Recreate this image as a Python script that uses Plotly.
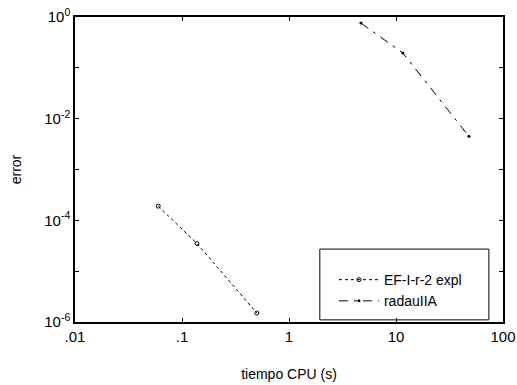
import plotly.graph_objects as go

# CPU time (s) vs. error for the two integrators
ef_time = [0.06, 0.138, 0.50]
ef_error = [1.9e-4, 3.5e-5, 1.5e-6]

radau_time = [4.7, 11.6, 48.0]
radau_error = [0.76, 0.195, 4.5e-3]

x_tickvals = [0.01, 0.1, 1, 10, 100]
x_ticktext = [".01", ".1", "1", "10", "100"]
y_tickvals = [1, 1e-2, 1e-4, 1e-6]
y_ticktext = ["10<sup>0</sup>", "10<sup>-2</sup>", "10<sup>-4</sup>", "10<sup>-6</sup>"]
y_minorvals = [1e-1, 1e-3, 1e-5]

FONT = "Liberation Sans, Arial, sans-serif"

fig = go.Figure()
fig.add_trace(go.Scatter(
    x=ef_time, y=ef_error, mode="lines+markers", name="EF-I-r-2 expl",
    line=dict(color="black", width=1, dash="3px,3px"),
    marker=dict(symbol="circle-open", size=4, color="black", line=dict(width=1)),
))
fig.add_trace(go.Scatter(
    x=radau_time, y=radau_error, mode="lines+markers", name="radauIIA",
    line=dict(color="black", width=1, dash="9px,6px,3px,6px"),
    marker=dict(symbol="circle", size=3, color="black"),
))

axis_common = dict(
    type="log", showline=True, linecolor="black", linewidth=1.5, mirror="ticks",
    ticks="inside", ticklen=4, tickcolor="black", tickwidth=1,
    showgrid=False, zeroline=False, automargin=False,
)

fig.update_layout(
    width=517, height=385,
    margin=dict(l=75, r=14, t=17, b=63),
    paper_bgcolor="white", plot_bgcolor="white",
    font=dict(family=FONT, color="black", size=14),
    xaxis=dict(range=[-2, 2], tickvals=x_tickvals, ticktext=x_ticktext,
               title=dict(text="tiempo CPU (s)", font=dict(size=14), standoff=25),
               tickfont=dict(size=15), **axis_common),
    yaxis=dict(range=[-6, 0], tickvals=y_tickvals, ticktext=y_ticktext,
               minor=dict(tickvals=y_minorvals, ticks="inside", ticklen=4,
                          tickcolor="black", tickwidth=1, showgrid=False),
               title=dict(text="error", font=dict(size=14), standoff=19),
               tickfont=dict(size=15), **axis_common),
    legend=dict(x=0.605, y=0.19, xanchor="left", yanchor="top",
                bgcolor="rgba(0,0,0,0)", borderwidth=0,
                font=dict(size=14), tracegroupgap=0, itemwidth=40),
    showlegend=True,
    shapes=[dict(type="rect", xref="paper", yref="paper",
                 x0=0.572, x1=0.967, y0=0.007, y1=0.239,
                 line=dict(color="black", width=1), fillcolor="rgba(0,0,0,0)")],
)

fig.write_html("out.html")
